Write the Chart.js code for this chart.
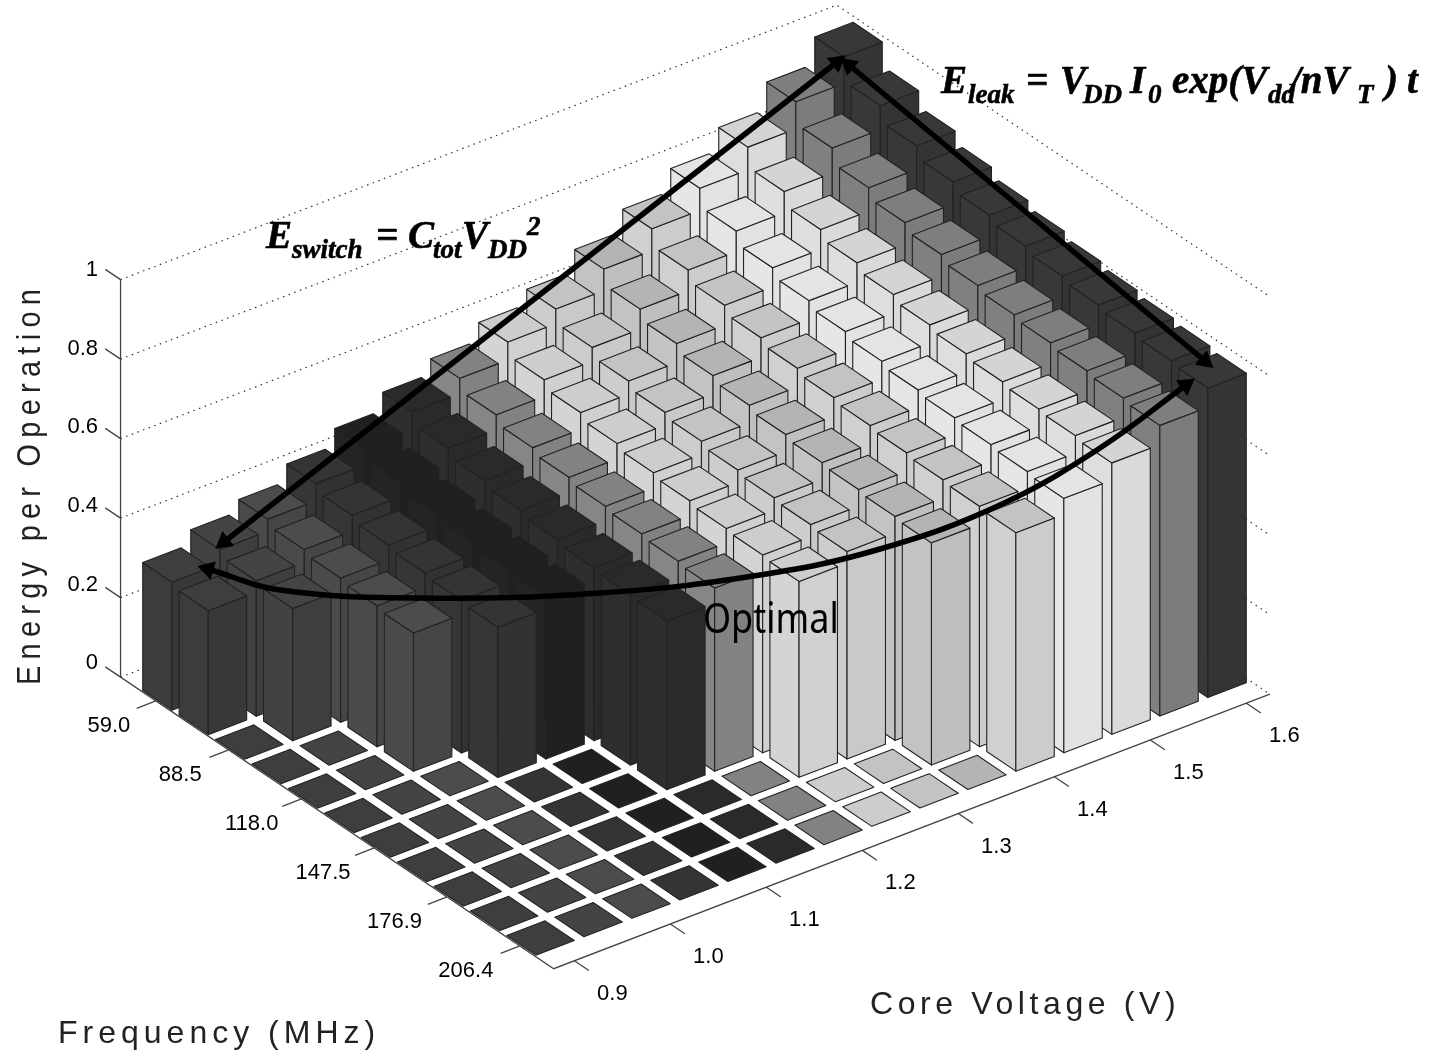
<!DOCTYPE html>
<html>
<head>
<meta charset="utf-8">
<title>Energy per Operation</title>
<style>
  html, body { margin: 0; background: #fff; }
  canvas { display: block; }
</style>
<script src="https://cdn.jsdelivr.net/npm/chart.js@4/dist/chart.umd.js"></script>
</head>
<body>
<canvas id="energyChart" width="1429" height="1055"></canvas>
<script>
// axis values
const frequencies = [59.0, 73.7, 88.5, 103.2, 118.0, 132.7, 147.5, 162.2, 176.9, 191.7, 206.4];
const voltages = [0.90, 0.95, 1.00, 1.05, 1.10, 1.15, 1.20, 1.25, 1.30, 1.35, 1.40, 1.45, 1.50, 1.55, 1.60];
const energyTicks = [0, 0.2, 0.4, 0.6, 0.8, 1];

// energy per operation, one list per core voltage, lowest frequency first.
// a list stops where the voltage can't reach the frequency: the rest is only a floor tile
const energy090 = [0.322, 0.312];
const energy095 = [0.358, 0.341, 0.333];
const energy100 = [0.388, 0.373, 0.363, 0.355, 0.348];
const energy105 = [0.431, 0.413, 0.400, 0.391, 0.384, 0.378];
const energy110 = [0.474, 0.449, 0.432, 0.421, 0.412, 0.404];
const energy115 = [0.519, 0.490, 0.469, 0.455, 0.445, 0.435, 0.429, 0.424];
const energy120 = [0.557, 0.527, 0.506, 0.493, 0.482, 0.474, 0.467, 0.461];
const energy125 = [0.602, 0.569, 0.548, 0.532, 0.520, 0.511, 0.503, 0.498, 0.493];
const energy130 = [0.639, 0.604, 0.581, 0.564, 0.553, 0.542, 0.534, 0.528, 0.522];
const energy135 = [0.693, 0.654, 0.629, 0.610, 0.597, 0.585, 0.576, 0.570, 0.564, 0.559];
const energy140 = [0.748, 0.706, 0.679, 0.659, 0.644, 0.632, 0.623, 0.616, 0.610, 0.605, 0.600];
const energy145 = [0.804, 0.758, 0.727, 0.706, 0.690, 0.677, 0.666, 0.658, 0.652, 0.646, 0.640];
const energy150 = [0.861, 0.811, 0.777, 0.755, 0.737, 0.722, 0.711, 0.702, 0.695, 0.690, 0.683];
const energy155 = [0.929, 0.874, 0.836, 0.810, 0.791, 0.775, 0.763, 0.754, 0.745, 0.738, 0.731];
const energy160 = [0.996, 0.935, 0.895, 0.866, 0.844, 0.828, 0.814, 0.803, 0.794, 0.786, 0.779];
const energyByVoltage = [energy090, energy095, energy100, energy105, energy110, energy115, energy120, energy125,
  energy130, energy135, energy140, energy145, energy150, energy155, energy160];

// gray level of each voltage column, side faces and top faces
const sideGrays = [60, 66, 74, 54, 36, 46, 134, 212, 205, 195, 208, 230, 222, 128, 56];
const topGrays = [62, 68, 76, 52, 32, 42, 130, 205, 195, 180, 195, 228, 212, 126, 56];

// oblique view of the MATLAB plot, plane coordinates are the size of the picture
const view = { x0: 176.5, y0: 693, vx: 48, vy: -18.4, fx: 36.4, fy: 24.5, unit: 397.5 };
const box = { vMin: -0.43, vMax: 14.49, fMin: -0.97, fMax: 10.93 };
const barWidth = 0.8;

function project(v, f, e) {
  return { x: view.x0 + view.vx * v + view.fx * f, y: view.y0 + view.vy * v + view.fy * f - view.unit * e };
}

// the bars: back columns first so the front ones paint over them
class Bar3dController extends Chart.ScatterController {
  draw() {
    const ctx = this.chart.ctx;
    const xs = this._cachedMeta.xScale;
    const ys = this._cachedMeta.yScale;
    const corner = (c, dv, df, e) => {
      const p = project(c.v + dv, c.f + df, e);
      return [xs.getPixelForValue(p.x), ys.getPixelForValue(p.y)];
    };
    const face = (pts, gray) => {
      ctx.beginPath();
      pts.forEach((p, k) => k ? ctx.lineTo(p[0], p[1]) : ctx.moveTo(p[0], p[1]));
      ctx.closePath();
      ctx.fillStyle = `rgb(${gray},${gray},${gray})`;
      ctx.fill();
      ctx.stroke();
    };
    const w = barWidth / 2;
    ctx.save();
    ctx.lineWidth = 1.1;
    ctx.lineJoin = 'round';
    ctx.strokeStyle = '#222';
    this.getDataset().data.forEach(c => {
      if (c.e > 0) {
        face([corner(c, -w, -w, c.e), corner(c, -w, w, c.e), corner(c, -w, w, 0), corner(c, -w, -w, 0)], sideGrays[c.v]);
        face([corner(c, -w, w, c.e), corner(c, w, w, c.e), corner(c, w, w, 0), corner(c, -w, w, 0)], sideGrays[c.v] - 4);
      }
      face([corner(c, -w, -w, c.e), corner(c, w, -w, c.e), corner(c, w, w, c.e), corner(c, -w, w, c.e)], topGrays[c.v]);
    });
    ctx.restore();
  }
}
Bar3dController.id = 'bar3d';
Bar3dController.defaults = Chart.ScatterController.defaults;
Chart.register(Bar3dController);

const bars = [];
for (let v = voltages.length - 1; v >= 0; v--) {
  for (let f = 0; f < frequencies.length; f++) {
    const e = f < energyByVoltage[v].length ? energyByVoltage[v][f] : 0;
    bars.push({ ...project(v, f, 0), v, f, e });
  }
}

// dotted wall lines
const wallGrid = [];
energyTicks.forEach(e => {
  wallGrid.push(project(box.vMin, box.fMin, e), project(box.vMax, box.fMin, e), project(box.vMax, box.fMax, e));
  wallGrid.push({ x: NaN, y: NaN });
});

// axis lines and tick marks
const gap = { x: NaN, y: NaN };
const axisLines = [project(box.vMin, box.fMin, 1), project(box.vMin, box.fMin, 0), project(box.vMin, box.fMax, 0), project(box.vMax, box.fMax, 0), gap];
energyTicks.forEach(e => axisLines.push(project(box.vMin, box.fMin, e), project(box.vMin, box.fMin - 0.42, e), gap));
frequencies.forEach((_, f) => { if (f % 2 === 0) axisLines.push(project(box.vMin, f, 0), project(box.vMin - 0.4, f, 0), gap); });
voltages.forEach((_, v) => { if (v % 2 === 0) axisLines.push(project(v, box.fMax, 0), project(v, box.fMax + 0.4, 0), gap); });

// hand drawn annotation arrows on the original figure
const switchArrow = [{ x: 224, y: 542 }, { x: 837, y: 62 }];
const leakArrow = [{ x: 849, y: 65 }, { x: 1205, y: 361 }];
const optimalArrow = [{ x: 208, y: 569 }, { x: 280, y: 590 }, { x: 420, y: 598 }, { x: 600, y: 593 }, { x: 760, y: 575 },
  { x: 880, y: 549 }, { x: 1000, y: 505 }, { x: 1100, y: 448 }, { x: 1186, y: 385 }];

function arrowDataset(points, tension) {
  const n = points.length - 1;
  const heading = (a, b) => Math.atan2(b.x - a.x, a.y - b.y) * 180 / Math.PI;
  return {
    type: 'line', data: points, order: 1, tension: tension,
    borderColor: '#000', borderWidth: 5.5, backgroundColor: '#000',
    pointRadius: points.map((_, k) => (k === 0 || k === n) ? 11 : 0),
    pointStyle: 'triangle', pointBorderWidth: 0,
    pointRotation: points.map((_, k) => k === 0 ? heading(points[1], points[0]) : heading(points[n - 1], points[n]))
  };
}

// text that isn't on a chart axis
const formulaLeak = [['E', 941, 93, 1], ['leak', 968, 103, 0], ['=', 1026, 93, 1], ['V', 1060, 93, 1], ['DD', 1083, 103, 0],
  ['I', 1130, 93, 1], ['0', 1148, 103, 0], ['exp(V', 1172, 93, 1], ['dd', 1268, 103, 0], ['/nV', 1290, 93, 1], ['T', 1357, 103, 0],
  [')', 1385, 93, 1], ['t', 1407, 93, 1]];
const formulaSwitch = [['E', 266, 248, 1], ['switch', 292, 258, 0], ['=', 376, 248, 1], ['C', 408, 248, 1], ['tot', 433, 258, 0],
  ['V', 462, 248, 1], ['DD', 488, 258, 0], ['2', 527, 235, 0]];

const textPlugin = {
  id: 'figureText',
  afterDraw(chart) {
    const ctx = chart.ctx;
    ctx.save();
    ctx.fillStyle = '#000';
    ctx.textBaseline = 'middle';

    ctx.font = '22px "Liberation Sans"';
    ctx.textAlign = 'right';
    energyTicks.forEach(e => {
      const p = project(box.vMin, box.fMin, e);
      ctx.fillText(String(e), 98, p.y - 14 + 4.5 * e);
    });
    ctx.textAlign = 'center';
    frequencies.forEach((hz, f) => {
      if (f % 2) return;
      const p = project(box.vMin, f, 0);
      ctx.fillText(hz.toFixed(1), p.x - 47 - 0.7 * f, p.y + 25);
    });
    voltages.forEach((volt, v) => {
      if (v % 2) return;
      const p = project(v, box.fMax, 0);
      ctx.fillText(volt.toFixed(1), p.x + 38, p.y + 33);
    });

    // spaced out axis titles
    ctx.font = '32px "Liberation Sans"';
    ctx.fillStyle = '#222';
    ctx.textAlign = 'left';
    ctx.letterSpacing = '5px';
    ctx.fillText('Frequency (MHz)', 58, 1034);
    ctx.letterSpacing = '4.6px';
    ctx.fillText('Core Voltage (V)', 870, 1005);
    ctx.save();
    ctx.translate(31, 685);
    ctx.rotate(-Math.PI / 2);
    ctx.scale(0.85, 1);
    ctx.font = '34px "Liberation Sans"';
    ctx.letterSpacing = '7.4px';
    ctx.fillText('Energy per Operation', 0, 0);
    ctx.restore();
    ctx.letterSpacing = '0px';

    // Optimal label, taller than the font in the scan
    ctx.save();
    ctx.translate(703, 621);
    ctx.scale(1, 1.15);
    ctx.font = '36px "Noto Sans"';
    ctx.fillStyle = '#000';
    ctx.fillText('Optimal', 0, 0);
    ctx.restore();

    ctx.textBaseline = 'alphabetic';
    ctx.fillStyle = '#000';
    ctx.strokeStyle = '#000';
    ctx.lineWidth = 0.6;
    [formulaLeak, formulaSwitch].forEach(parts => parts.forEach(part => {
      ctx.font = `italic bold ${part[3] ? 39 : 27}px "Liberation Serif"`;
      ctx.fillText(part[0], part[1], part[2]);
      ctx.strokeText(part[0], part[1], part[2]);
    }));
    ctx.restore();
  }
};

new Chart(document.getElementById('energyChart'), {
  type: 'scatter',
  data: {
    datasets: [
      arrowDataset(switchArrow, 0),
      arrowDataset(leakArrow, 0),
      arrowDataset(optimalArrow, 0.4),
      { type: 'bar3d', label: 'Energy per Operation', data: bars, order: 2 },
      { type: 'line', data: axisLines, order: 3, borderColor: '#444', borderWidth: 1.3, pointRadius: 0, spanGaps: false },
      { type: 'line', data: wallGrid, order: 4, borderColor: '#333', borderWidth: 1.2, borderDash: [1.5, 4.5], pointRadius: 0, spanGaps: false }
    ]
  },
  options: {
    responsive: false,
    animation: false,
    events: [],
    layout: { padding: 0, autoPadding: false },
    plugins: { legend: { display: false }, tooltip: { enabled: false } },
    scales: {
      x: { type: 'linear', min: 0, max: 1429, display: false },
      y: { type: 'linear', min: 0, max: 1055, reverse: true, display: false }
    }
  },
  plugins: [textPlugin]
});
</script>
</body>
</html>
